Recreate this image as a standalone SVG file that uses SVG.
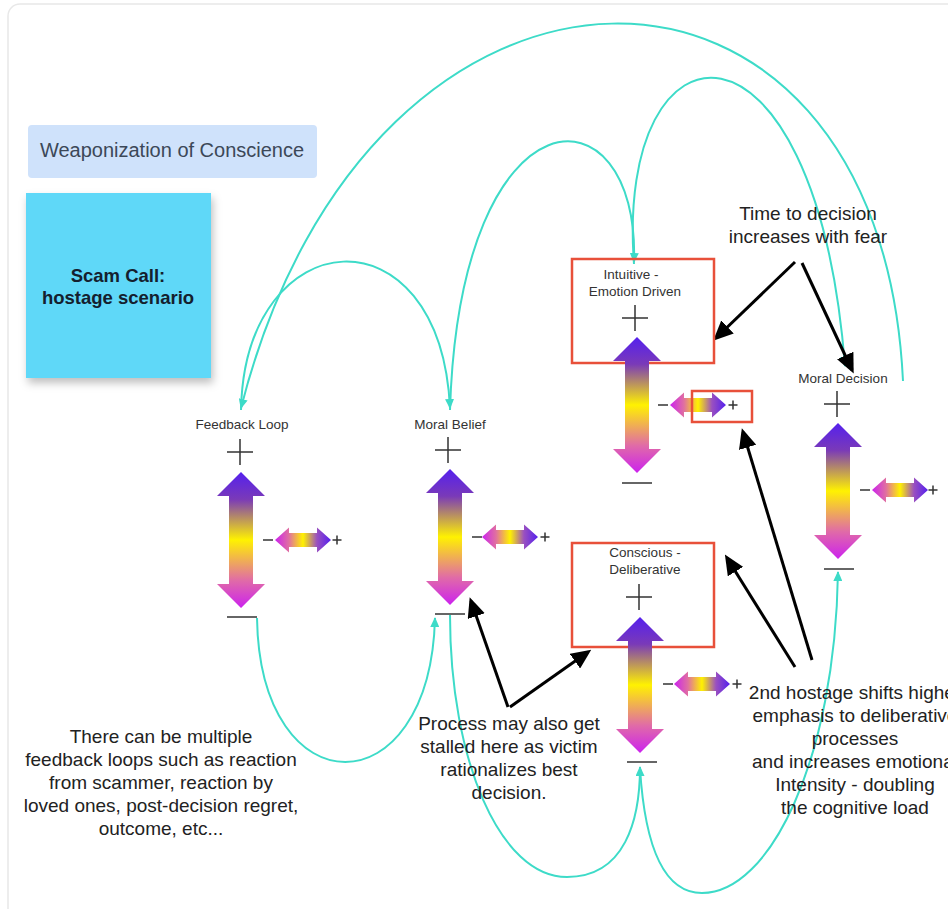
<svg xmlns="http://www.w3.org/2000/svg" width="948" height="909" viewBox="0 0 948 909">
<defs>
<style>
.lbl{font-family:"Liberation Sans",Arial,sans-serif;font-size:13.5px;fill:#333;text-anchor:middle}
.note{font-family:"Liberation Sans",Arial,sans-serif;font-size:19px;fill:#222;text-anchor:middle}
.cy{fill:none;stroke:#3ddbc8;stroke-width:2}
.bk{fill:none;stroke:#000;stroke-width:3}
.pm{stroke:#333;stroke-width:1.5;fill:none}
.red{fill:none;stroke:#e8503a;stroke-width:2.5}
</style>
<linearGradient id="gv" x1="0" y1="0" x2="0" y2="1">
<stop offset="0" stop-color="#5520ee"/>
<stop offset="0.2" stop-color="#7a3ab8"/>
<stop offset="0.5" stop-color="#fff200"/>
<stop offset="0.8" stop-color="#e06aa8"/>
<stop offset="1" stop-color="#cc22ee"/>
</linearGradient>
<linearGradient id="gh" x1="0" y1="0" x2="1" y2="0">
<stop offset="0" stop-color="#cc22ee"/>
<stop offset="0.25" stop-color="#e070a0"/>
<stop offset="0.5" stop-color="#fff200"/>
<stop offset="0.75" stop-color="#9a50c0"/>
<stop offset="1" stop-color="#5520ee"/>
</linearGradient>
<path id="va" d="M0,-68 L24,-44 L12,-44 L12,44 L24,44 L0,68 L-24,44 L-12,44 L-12,-44 L-24,-44 Z"/>
<path id="ha" d="M-28,0 L-14,-12.5 L-14,-7 L14,-7 L14,-12.5 L28,0 L14,12.5 L14,7 L-14,7 L-14,12.5 Z"/>
<g id="plus"><path class="pm" d="M-13,0 H13 M0,-13 V13"/></g>
<g id="minus"><path class="pm" d="M-15,0 H15"/></g>
<g id="sm"><path class="pm" d="M-5,0 H5"/></g>
<g id="sp"><path class="pm" d="M-4.5,0 H4.5 M0,-4.5 V4.5"/></g>
<marker id="ac" markerUnits="userSpaceOnUse" markerWidth="10" markerHeight="9" refX="9" refY="4.5" orient="auto"><path d="M0,0 L10,4.5 L0,9 Z" fill="#3ddbc8"/></marker>
<marker id="ab" markerUnits="userSpaceOnUse" markerWidth="20" markerHeight="18" refX="16" refY="9" orient="auto"><path d="M0,0 L20,9 L0,18 Z" fill="#000"/></marker>
<filter id="sh" x="-20%" y="-20%" width="140%" height="150%"><feDropShadow dx="2" dy="5" stdDeviation="4" flood-color="#000" flood-opacity="0.25"/></filter>
</defs>
<rect width="948" height="909" fill="#ffffff"/>
<rect x="8" y="4" width="980" height="940" rx="12" fill="#ffffff" stroke="#e8e8e8" stroke-width="1.5"/>

<g id="title">
<rect x="28" y="125" width="289" height="53" rx="4" fill="#cfe2fb"/>
<text x="172" y="157" font-family="'Liberation Sans',Arial,sans-serif" font-size="20" fill="#3c4858" text-anchor="middle">Weaponization of Conscience</text>
</g>
<g id="sticky">
<rect x="26" y="193" width="185" height="185" fill="#5fd8f8" filter="url(#sh)"/>
<text x="118" y="282" font-family="'Liberation Sans',Arial,sans-serif" font-size="18.5" font-weight="bold" fill="#14202e" text-anchor="middle">Scam Call:</text>
<text x="118" y="304" font-family="'Liberation Sans',Arial,sans-serif" font-size="18.5" font-weight="bold" fill="#14202e" text-anchor="middle">hostage scenario</text>
</g>

<g id="connectors">
<path class="cy" d="M903,381 C880,-100 370,-100 241,408" marker-end="url(#ac)"/>
<path class="cy" d="M241,410 C245,220 440,205 450,408" marker-end="url(#ac)"/>
<path class="cy" d="M450,410 C460,82 640,82 634,262" marker-end="url(#ac)"/>
<path class="cy" d="M634,264 C615,10 815,-10 845,366" marker-end="url(#ac)"/>
<path class="cy" d="M257,618 C260,810 430,810 435,618" marker-end="url(#ac)"/>
<path class="cy" d="M450,615 C450,760 500,877 567,877 C625,877 640,820 640,767" marker-end="url(#ac)"/>
<path class="cy" d="M640,768 C645,850 665,893 702,893 C770,893 835,760 838,572" marker-end="url(#ac)"/>
<path class="bk" d="M795,262 L716,338" marker-end="url(#ab)"/>
<path class="bk" d="M802,263 L852,370" marker-end="url(#ab)"/>
<path class="bk" d="M795,667 L727,558" marker-end="url(#ab)"/>
<path class="bk" d="M812,660 L743,432" marker-end="url(#ab)"/>
<path class="bk" d="M508,707 L471,601" marker-end="url(#ab)"/>
<path class="bk" d="M510,707 L588,652" marker-end="url(#ab)"/>
</g>

<g id="feedback-loop">
<text class="lbl" x="242" y="429">Feedback Loop</text>
<use href="#plus" x="240" y="452"/>
<use href="#va" x="241" y="540" fill="url(#gv)"/>
<use href="#ha" x="303" y="540" fill="url(#gh)"/>
<use href="#sm" x="268" y="540"/>
<use href="#sp" x="337" y="540"/>
<use href="#minus" x="242" y="617"/>
</g>

<g id="moral-belief">
<text class="lbl" x="450" y="429">Moral Belief</text>
<use href="#plus" x="448" y="450"/>
<use href="#va" x="450" y="537" fill="url(#gv)"/>
<use href="#ha" x="510" y="537" fill="url(#gh)"/>
<use href="#sm" x="477" y="537"/>
<use href="#sp" x="545" y="537"/>
<use href="#minus" x="450" y="614"/>
</g>

<g id="intuitive">
<rect class="red" x="572" y="259" width="142" height="104"/>
<text class="lbl" x="631" y="279">Intuitive -</text>
<text class="lbl" x="635" y="296">Emotion Driven</text>
<use href="#plus" x="635" y="318"/>
<use href="#va" x="637" y="405" fill="url(#gv)"/>
<use href="#ha" x="698" y="405" fill="url(#gh)"/>
<use href="#sm" x="663" y="405"/>
<use href="#sp" x="733" y="405"/>
<rect class="red" x="692" y="391" width="60" height="31"/>
<use href="#minus" x="637" y="483"/>
</g>

<g id="conscious">
<rect class="red" x="572" y="543" width="142" height="104"/>
<text class="lbl" x="645" y="557">Conscious -</text>
<text class="lbl" x="645" y="574">Deliberative</text>
<use href="#plus" x="639" y="597"/>
<use href="#va" x="640" y="685" fill="url(#gv)"/>
<use href="#ha" x="702" y="684" fill="url(#gh)"/>
<use href="#sm" x="668" y="684"/>
<use href="#sp" x="737" y="684"/>
<use href="#minus" x="642" y="762"/>
</g>

<g id="moral-decision">
<text class="lbl" x="843" y="383">Moral Decision</text>
<use href="#plus" x="837" y="404"/>
<use href="#va" x="838" y="491" fill="url(#gv)"/>
<use href="#ha" x="900" y="490" fill="url(#gh)"/>
<use href="#sm" x="865" y="490"/>
<use href="#sp" x="933" y="490"/>
<use href="#minus" x="839" y="569"/>
</g>

<g id="note-time">
<text class="note" x="808" y="220">Time to decision</text>
<text class="note" x="808" y="243">increases with fear</text>
</g>
<g id="note-feedback">
<text class="note" x="161" y="743">There can be multiple</text>
<text class="note" x="161" y="766">feedback loops such as reaction</text>
<text class="note" x="161" y="789">from scammer, reaction by</text>
<text class="note" x="161" y="812">loved ones, post-decision regret,</text>
<text class="note" x="161" y="835">outcome, etc...</text>
</g>
<g id="note-process">
<text class="note" x="509" y="730">Process may also get</text>
<text class="note" x="509" y="753">stalled here as victim</text>
<text class="note" x="509" y="776">rationalizes best</text>
<text class="note" x="509" y="799">decision.</text>
</g>
<g id="note-hostage">
<text class="note" x="855" y="699">2nd hostage shifts higher</text>
<text class="note" x="855" y="722">emphasis to deliberative</text>
<text class="note" x="855" y="745">processes</text>
<text class="note" x="855" y="768">and increases emotional</text>
<text class="note" x="855" y="791">Intensity - doubling</text>
<text class="note" x="855" y="814">the cognitive load</text>
</g>
</svg>
